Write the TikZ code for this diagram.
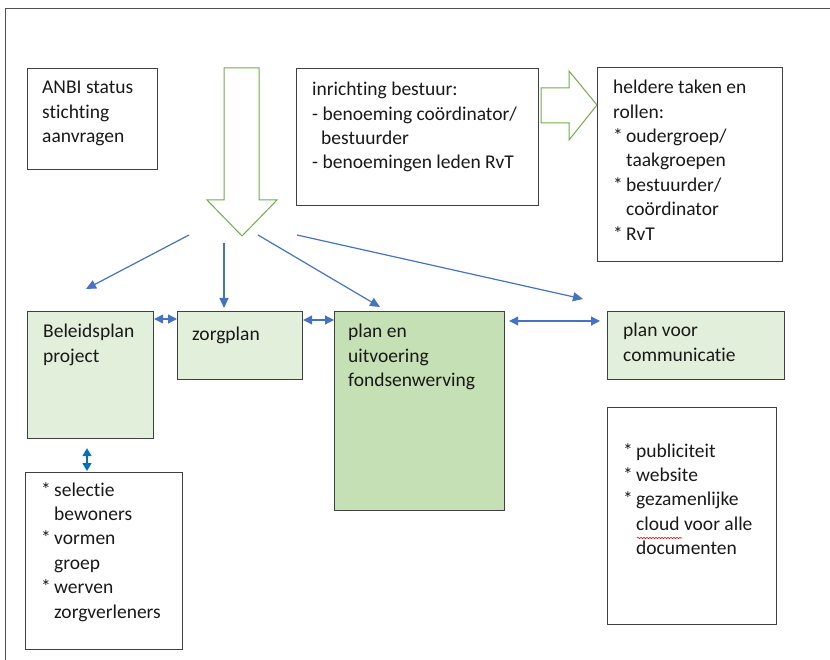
\documentclass[tikz,border=0pt]{standalone}
\usepackage{fontspec}
\setmainfont[Ligatures = NoCommon]{Carlito}
\usetikzlibrary{arrows.meta,positioning,decorations.pathmorphing}
\newcommand{\sterretje}{\makebox[13pt][l]{*}}
\newcommand{\inspring}{\hspace*{13pt}}
\newcommand{\streepje}{\hspace*{9pt}}

\begin{document}
\begin{tikzpicture}[x = 1pt, y = -1pt]
\tikzstyle{vak}=[shape = rectangle, anchor = north west, inner sep = 0pt, draw = {rgb,255:red,64; green,64; blue,64}, line width = 1.2pt]
\tikzstyle{lichtgroen}=[vak, fill = {rgb,255:red,226; green,239; blue,218}]
\tikzstyle{groen}=[vak, fill = {rgb,255:red,197; green,224; blue,180}]
\tikzstyle{tekst}=[inner sep = 0pt, anchor = north west, align = left, font = \fontsize{19.5}{24.4}\selectfont, text = {rgb,255:red,25; green,25; blue,25}, execute at begin node = \rule{0pt}{16pt}]
\tikzstyle{pijl}=[draw = {rgb,255:red,68; green,114; blue,196}, line width = 1.2pt, -{Triangle[length = 10pt, width = 9pt]}]
\tikzstyle{dubbelpijl}=[pijl, {Triangle[length = 9pt, width = 9pt]}-{Triangle[length = 9pt, width = 9pt]}]
\tikzstyle{blokpijl}=[draw = {rgb,255:red,112; green,173; blue,71}, line width = 1pt, fill = white]
\useasboundingbox (0,0) rectangle (830,660);
\draw[line width = 1pt, draw = {rgb,255:red,80; green,80; blue,80}] (5,660) -- (5,9) -- (830,9);

% bovenste rij
\node[vak, minimum width = 130, minimum height = 101] (anbi) at (27,68) {};
\node[tekst, below right = 13pt and 15pt of anbi.north west] (anbi-t) {ANBI status\\stichting\\aanvragen};
\node[vak, minimum width = 242, minimum height = 137] (bestuur) at (296,68) {};
\node[tekst, below right = 14pt and 16pt of bestuur.north west] (bestuur-t) {inrichting bestuur:\\- benoeming coördinator/\\\streepje bestuurder\\- benoemingen leden RvT};
\node[vak, minimum width = 185, minimum height = 194] (taken) at (597,67) {};
\node[tekst, below right = 13pt and 16pt of taken.north west] (taken-t) {heldere taken en\\rollen:\\\sterretje oudergroep/\\\inspring taakgroepen\\\sterretje bestuurder/\\\inspring coördinator\\\sterretje RvT};

% blokpijlen
\draw[blokpijl] (224,68) -- (259,68) -- (259,200) -- (277,200) -- (242,236) -- (207,200) -- (224,200) -- cycle;
\draw[blokpijl] (541,88) -- (569,88) -- (569,71) -- (597,105) -- (569,140) -- (569,123) -- (541,123) -- cycle;

% plannen
\node[lichtgroen, minimum width = 126, minimum height = 127] (beleid) at (27,311) {};
\node[tekst, below right = 13pt and 16pt of beleid.north west] (beleid-t) {Beleidsplan\\project};
\node[lichtgroen, minimum width = 125, minimum height = 68] (zorg) at (177,311) {};
\node[tekst, below right = 13pt and 15pt of zorg.north west] (zorg-t) {zorgplan};
\node[groen, minimum width = 170, minimum height = 199] (fonds) at (334,311) {};
\node[tekst, below right = 13pt and 14pt of fonds.north west] (fonds-t) {plan en\\uitvoering\\fondsenwerving};
\node[lichtgroen, minimum width = 177, minimum height = 68] (comm) at (607,311) {};
\node[tekst, below right = 12pt and 16pt of comm.north west] (comm-t) {plan voor\\communicatie};

% onderste rij
\node[vak, minimum width = 157, minimum height = 177] (bewoners) at (25,472) {};
\node[tekst, below right = 10pt and 16pt of bewoners.north west] (bewoners-t) {\sterretje selectie\\\inspring bewoners\\\sterretje vormen\\\inspring groep\\\sterretje werven\\\inspring zorgverleners};
\node[vak, minimum width = 169, minimum height = 217] (media) at (607,407) {};
\node[tekst, below right = 36pt and 16pt of media.north west] (media-t) {\sterretje publiciteit\\\sterretje website\\\sterretje gezamenlijke\\\inspring cloud voor alle\\\inspring documenten};
\draw[red, line width = 0.6pt, decorate, decoration = {snake, segment length = 3pt, amplitude = 0.7pt}] (637,538) -- (682,538);

% waaier van pijlen
\coordinate (s1) at (189,235);
\coordinate (s2) at (224,243);
\coordinate (s3) at (258,235);
\coordinate (s4) at (297,235);
\coordinate (e1) at (86,289);
\coordinate (e2) at (224,308);
\coordinate (e3) at (380,307);
\coordinate (e4) at (583,299);
\draw[pijl] (s1) -- (e1);
\draw[pijl] (s2) -- (e2);
\draw[pijl] (s3) -- (e3);
\draw[pijl] (s4) -- (e4);

% verbindingen
\draw[dubbelpijl] ([yshift = -8pt]beleid.north east) -- ([yshift = -8pt]zorg.north west);
\draw[dubbelpijl] ([yshift = -9pt]zorg.north east) -- ([yshift = -9pt]fonds.north west);
\draw[dubbelpijl] ([xshift = 4pt, yshift = -10pt]fonds.north east) -- ([xshift = -7pt, yshift = -10pt]comm.north west);
\draw[dubbelpijl, draw = {rgb,255:red,0; green,112; blue,192}, {Triangle[length = 8pt, width = 9pt]}-{Triangle[length = 8pt, width = 9pt]}] ([xshift = 60pt, yshift = -9pt]beleid.south west) -- ([xshift = 62pt, yshift = 1pt]bewoners.north west);
\end{tikzpicture}
\end{document}
